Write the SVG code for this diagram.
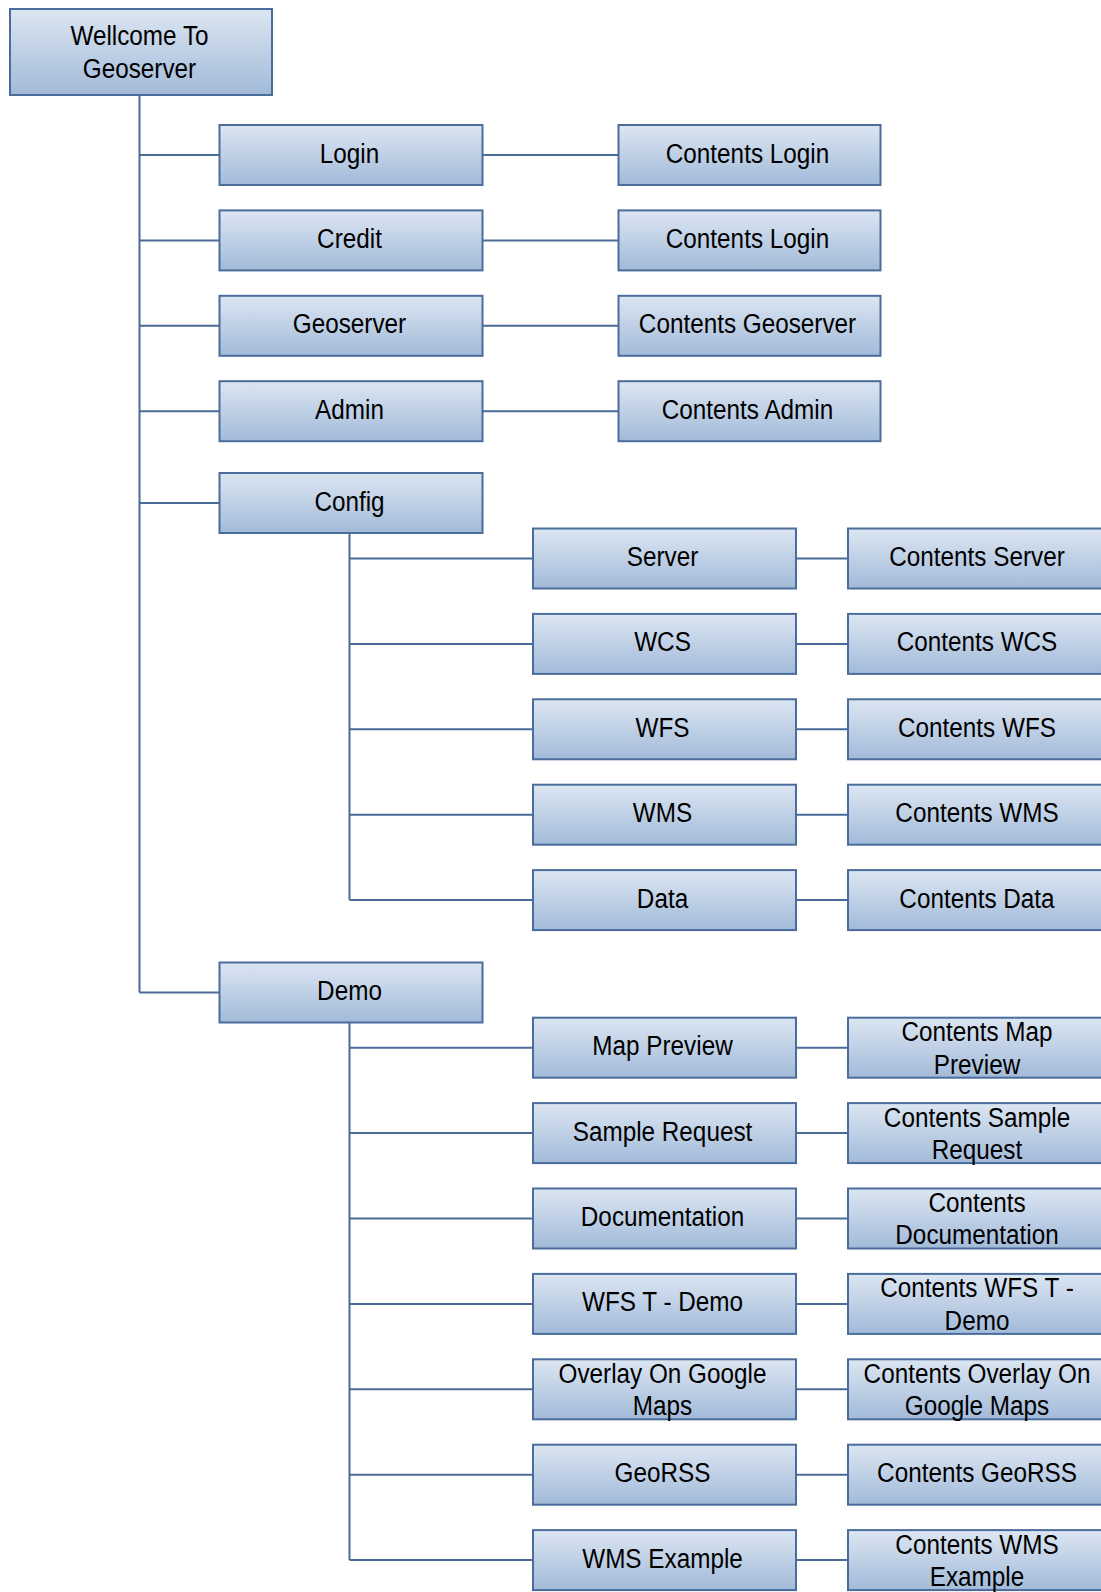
<svg xmlns="http://www.w3.org/2000/svg" width="1101" height="1592" viewBox="0 0 1101 1592">
<defs>
<linearGradient id="g" x1="0" y1="0" x2="0" y2="1">
<stop offset="0" stop-color="#dce6f2"/>
<stop offset="1" stop-color="#a2bad9"/>
</linearGradient>
</defs>
<style>
.box{fill:url(#g);stroke:#4a6d9c;stroke-width:2}
.t{font-family:"Liberation Sans",Arial,sans-serif;font-size:27px;text-anchor:middle;fill:#000}
.c{stroke:#4a6b98;stroke-width:2;fill:none}
</style>
<rect width="1101" height="1592" fill="#fff"/>
<g id="connectors">
<path class="c" d="M139.5 95V992.5"/>
<path class="c" d="M139.5 155H219.5M139.5 240.4H219.5M139.5 325.8H219.5M139.5 411.2H219.5M139.5 503H219.5M139.5 992.5H219.5"/>
<path class="c" d="M482.5 155H618.5M482.5 240.4H618.5M482.5 325.8H618.5M482.5 411.2H618.5"/>
<path class="c" d="M349.5 533V900.1"/>
<path class="c" d="M349.5 558.5H533M349.5 643.9H533M349.5 729.3H533M349.5 814.7H533M349.5 900.1H533"/>
<path class="c" d="M349.5 1022.5V1560.1"/>
<path class="c" d="M349.5 1047.7H533M349.5 1133.1H533M349.5 1218.5H533M349.5 1303.9H533M349.5 1389.3H533M349.5 1474.7H533M349.5 1560.1H533"/>
<path class="c" d="M796 558.5H848M796 643.9H848M796 729.3H848M796 814.7H848M796 900.1H848"/>
<path class="c" d="M796 1047.7H848M796 1133.1H848M796 1218.5H848M796 1303.9H848M796 1389.3H848M796 1474.7H848M796 1560.1H848"/>
</g>
<g id="root"><rect class="box" x="10" y="9" width="262" height="86"/><text class="t" transform="translate(139.5 0) scale(0.9 1)"><tspan x="0" y="45">Wellcome To</tspan><tspan x="0" y="78">Geoserver</tspan></text></g>
<g id="login"><rect class="box" x="219.5" y="125" width="263" height="60"/><text class="t" transform="translate(349.5 162.5) scale(0.9 1)">Login</text></g>
<g id="credit"><rect class="box" x="219.5" y="210.4" width="263" height="60"/><text class="t" transform="translate(349.5 247.9) scale(0.9 1)">Credit</text></g>
<g id="geoserver"><rect class="box" x="219.5" y="295.8" width="263" height="60"/><text class="t" transform="translate(349.5 333.3) scale(0.9 1)">Geoserver</text></g>
<g id="admin"><rect class="box" x="219.5" y="381.2" width="263" height="60"/><text class="t" transform="translate(349.5 418.7) scale(0.9 1)">Admin</text></g>
<g id="config"><rect class="box" x="219.5" y="473" width="263" height="60"/><text class="t" transform="translate(349.5 510.5) scale(0.9 1)">Config</text></g>
<g id="demo"><rect class="box" x="219.5" y="962.5" width="263" height="60"/><text class="t" transform="translate(349.5 1000) scale(0.9 1)">Demo</text></g>
<g id="contents-login"><rect class="box" x="618.5" y="125" width="262" height="60"/><text class="t" transform="translate(747.5 162.5) scale(0.9 1)">Contents Login</text></g>
<g id="contents-credit"><rect class="box" x="618.5" y="210.4" width="262" height="60"/><text class="t" transform="translate(747.5 247.9) scale(0.9 1)">Contents Login</text></g>
<g id="contents-geoserver"><rect class="box" x="618.5" y="295.8" width="262" height="60"/><text class="t" transform="translate(747.5 333.3) scale(0.9 1)">Contents Geoserver</text></g>
<g id="contents-admin"><rect class="box" x="618.5" y="381.2" width="262" height="60"/><text class="t" transform="translate(747.5 418.7) scale(0.9 1)">Contents Admin</text></g>
<g id="server"><rect class="box" x="533" y="528.5" width="263" height="60"/><text class="t" transform="translate(662.5 566) scale(0.9 1)">Server</text></g>
<g id="wcs"><rect class="box" x="533" y="613.9" width="263" height="60"/><text class="t" transform="translate(662.5 651.4) scale(0.9 1)">WCS</text></g>
<g id="wfs"><rect class="box" x="533" y="699.3" width="263" height="60"/><text class="t" transform="translate(662.5 736.8) scale(0.9 1)">WFS</text></g>
<g id="wms"><rect class="box" x="533" y="784.7" width="263" height="60"/><text class="t" transform="translate(662.5 822.2) scale(0.9 1)">WMS</text></g>
<g id="data"><rect class="box" x="533" y="870.1" width="263" height="60"/><text class="t" transform="translate(662.5 907.6) scale(0.9 1)">Data</text></g>
<g id="map-preview"><rect class="box" x="533" y="1017.7" width="263" height="60"/><text class="t" transform="translate(662.5 1055.2) scale(0.9 1)">Map Preview</text></g>
<g id="sample-request"><rect class="box" x="533" y="1103.1" width="263" height="60"/><text class="t" transform="translate(662.5 1140.6) scale(0.9 1)">Sample Request</text></g>
<g id="documentation"><rect class="box" x="533" y="1188.5" width="263" height="60"/><text class="t" transform="translate(662.5 1226) scale(0.9 1)">Documentation</text></g>
<g id="wfs-t-demo"><rect class="box" x="533" y="1273.9" width="263" height="60"/><text class="t" transform="translate(662.5 1311.4) scale(0.9 1)">WFS T - Demo</text></g>
<g id="overlay"><rect class="box" x="533" y="1359.3" width="263" height="60"/><text class="t" transform="translate(662.5 0) scale(0.9 1)"><tspan x="0" y="1382.8">Overlay On Google</tspan><tspan x="0" y="1415.3">Maps</tspan></text></g>
<g id="georss"><rect class="box" x="533" y="1444.7" width="263" height="60"/><text class="t" transform="translate(662.5 1482.2) scale(0.9 1)">GeoRSS</text></g>
<g id="wms-example"><rect class="box" x="533" y="1530.1" width="263" height="60"/><text class="t" transform="translate(662.5 1567.6) scale(0.9 1)">WMS Example</text></g>
<g id="contents-server"><rect class="box" x="848" y="528.5" width="263" height="60"/><text class="t" transform="translate(977 566) scale(0.9 1)">Contents Server</text></g>
<g id="contents-wcs"><rect class="box" x="848" y="613.9" width="263" height="60"/><text class="t" transform="translate(977 651.4) scale(0.9 1)">Contents WCS</text></g>
<g id="contents-wfs"><rect class="box" x="848" y="699.3" width="263" height="60"/><text class="t" transform="translate(977 736.8) scale(0.9 1)">Contents WFS</text></g>
<g id="contents-wms"><rect class="box" x="848" y="784.7" width="263" height="60"/><text class="t" transform="translate(977 822.2) scale(0.9 1)">Contents WMS</text></g>
<g id="contents-data"><rect class="box" x="848" y="870.1" width="263" height="60"/><text class="t" transform="translate(977 907.6) scale(0.9 1)">Contents Data</text></g>
<g id="contents-map-preview"><rect class="box" x="848" y="1017.7" width="263" height="60"/><text class="t" transform="translate(977 0) scale(0.9 1)"><tspan x="0" y="1041.2">Contents Map</tspan><tspan x="0" y="1073.7">Preview</tspan></text></g>
<g id="contents-sample-request"><rect class="box" x="848" y="1103.1" width="263" height="60"/><text class="t" transform="translate(977 0) scale(0.9 1)"><tspan x="0" y="1126.6">Contents Sample</tspan><tspan x="0" y="1159.1">Request</tspan></text></g>
<g id="contents-documentation"><rect class="box" x="848" y="1188.5" width="263" height="60"/><text class="t" transform="translate(977 0) scale(0.9 1)"><tspan x="0" y="1212">Contents</tspan><tspan x="0" y="1244.5">Documentation</tspan></text></g>
<g id="contents-wfs-t-demo"><rect class="box" x="848" y="1273.9" width="263" height="60"/><text class="t" transform="translate(977 0) scale(0.9 1)"><tspan x="0" y="1297.4">Contents WFS T -</tspan><tspan x="0" y="1329.9">Demo</tspan></text></g>
<g id="contents-overlay"><rect class="box" x="848" y="1359.3" width="263" height="60"/><text class="t" transform="translate(977 0) scale(0.9 1)"><tspan x="0" y="1382.8">Contents Overlay On</tspan><tspan x="0" y="1415.3">Google Maps</tspan></text></g>
<g id="contents-georss"><rect class="box" x="848" y="1444.7" width="263" height="60"/><text class="t" transform="translate(977 1482.2) scale(0.9 1)">Contents GeoRSS</text></g>
<g id="contents-wms-example"><rect class="box" x="848" y="1530.1" width="263" height="60"/><text class="t" transform="translate(977 0) scale(0.9 1)"><tspan x="0" y="1553.6">Contents WMS</tspan><tspan x="0" y="1586.1">Example</tspan></text></g>
</svg>
